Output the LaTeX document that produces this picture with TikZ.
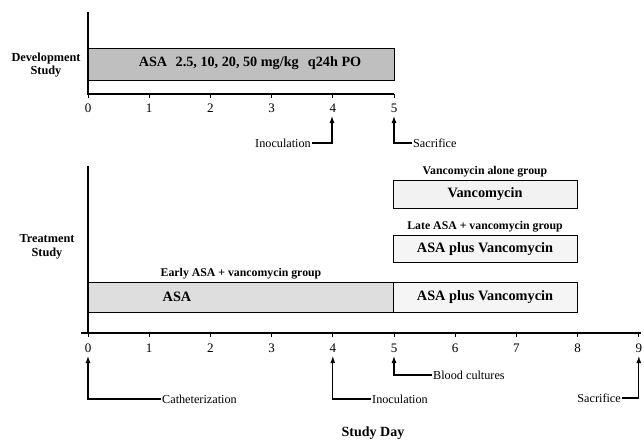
\documentclass[tikz,border=0pt]{standalone}
\usepackage{fontspec}
\setmainfont{Liberation Serif}
\usetikzlibrary{arrows.meta}
\begin{document}
\begin{tikzpicture}[x=1pt,y=-1pt,
  axisline/.style={line width=1.4pt},
  tickline/.style={line width=1pt},
  bar/.style={draw, line width=1pt},
  ticklbl/.style={font=\fontsize{13}{13}\selectfont, inner sep=0pt},
  evt/.style={font=\fontsize{12.2}{12}\selectfont, inner sep=1pt},
  evtline/.style={line width=1.1pt, -{Latex[length=7pt,width=5pt]}},
  grp/.style={font=\bfseries\fontsize{11.8}{12}\selectfont, inner sep=0pt},
  inbar/.style={font=\bfseries\fontsize{14.3}{14}\selectfont, inner sep=0pt},
  side/.style={font=\bfseries\fontsize{12.3}{13.5}\selectfont, align=center, inner sep=0pt}]
\useasboundingbox (0,0) rectangle (644,440);
% ---------------- Development study ----------------
\node[side] (dev) at (46,65) {Development\\Study};
\coordinate (t0) at (88,94);
\coordinate (t5) at (394,94);
\coordinate (ttop) at (88,12);
\draw[bar, fill=black!25] (88,48) rectangle (394,80);
\node[inbar, font=\bfseries\fontsize{14.2}{14}\selectfont] (devtxt) at (250,63) {ASA\hspace{0.6em}2.5, 10, 20, 50 mg/kg\hspace{0.4em} q24h PO};
\draw[axisline] (ttop) -- (t0) -- (t5);
\foreach \k in {0,...,5} {
  \draw[tickline] ({88+61.2*\k},94) -- ({88+61.2*\k},98);
  \node[ticklbl] (tl\k) at ({88+61.2*\k},108) {\k};
}
\coordinate (a4) at (332,116);
\coordinate (a5) at (394,116);
\node[evt, anchor=east] (inoc1) at (312,143) {Inoculation};
\node[evt, anchor=west] (sac1) at (412,143) {Sacrifice};
\draw[evtline] (inoc1.east) -| (a4);
\draw[evtline] (sac1.west) -| (a5);
% ---------------- Treatment study ----------------
\node[side] (trt) at (47,247) {Treatment\\Study};
\coordinate (b0) at (88,333);
\coordinate (bl) at (81,333);
\coordinate (br) at (641,333);
\coordinate (btop) at (88,166);
% vancomycin alone
\node[grp] (g1) at (485,172) {Vancomycin alone group};
\draw[bar, fill=black!5] (393,180) rectangle (577,208);
\node[inbar] (v1) at (485,194) {Vancomycin};
% late
\node[grp] (g2) at (485,227) {Late ASA + vancomycin group};
\draw[bar, fill=black!4] (393,235) rectangle (577,262);
\node[inbar] (v2) at (485,249) {ASA plus Vancomycin};
% early
\node[grp] (g3) at (241,274) {Early ASA + vancomycin group};
\draw[bar, fill=black!13] (88,282) rectangle (393,312);
\draw[bar, fill=black!4] (393,282) rectangle (577,312);
\node[inbar] (asa) at (177,297) {ASA};
\node[inbar] (v3) at (485,297) {ASA plus Vancomycin};
% axes
\draw[axisline] (btop) -- (b0);
\draw[axisline] (bl) -- (br);
\foreach \k in {0,...,9} {
  \draw[tickline] ({88+61.2*\k},333) -- ({88+61.2*\k},337);
  \node[ticklbl] (bt\k) at ({88+61.2*\k},348) {\k};
}
\coordinate (c0) at (88,356);
\coordinate (c4) at (332.8,356);
\coordinate (c5) at (394,356);
\coordinate (c9) at (638.8,356);
\node[evt, anchor=west] (cath) at (161,399) {Catheterization};
\node[evt, anchor=west] (inoc2) at (371,399) {Inoculation};
\node[evt, anchor=west] (blood) at (432,375) {Blood cultures};
\node[evt, anchor=east] (sac2) at (622,398) {Sacrifice};
\draw[evtline] (cath.west) -| (c0);
\draw[evtline] (inoc2.west) -| (c4);
\draw[evtline] (blood.west) -| (c5);
\draw[evtline] (sac2.east) -| (c9);
\node[font=\bfseries\fontsize{14}{14}\selectfont, inner sep=0pt] (sd) at (373,433) {Study Day};
\end{tikzpicture}
\end{document}
